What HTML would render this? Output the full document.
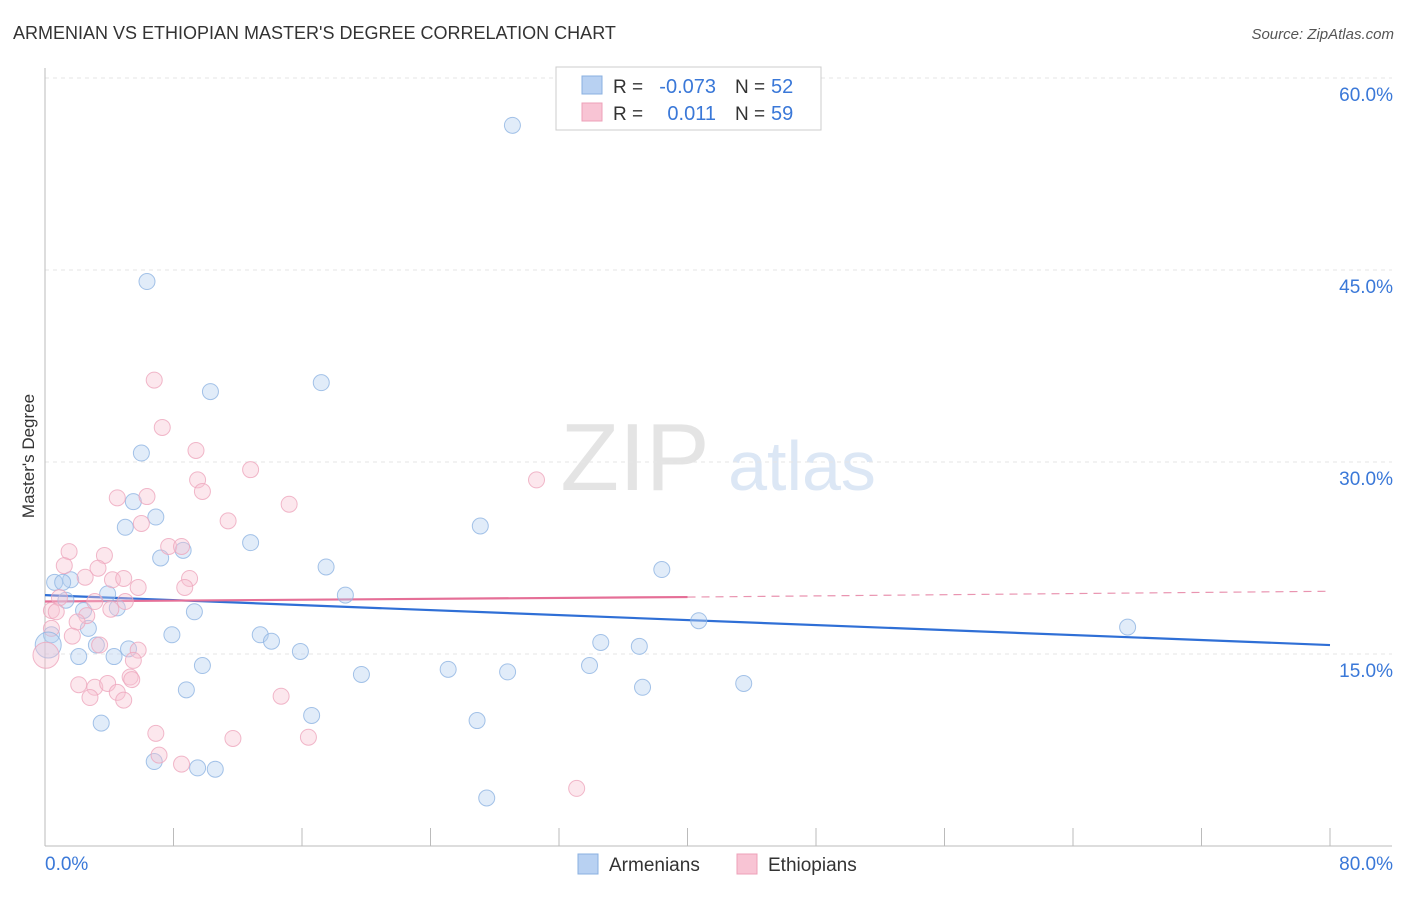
<!DOCTYPE html>
<html><head><meta charset="utf-8"><style>
body{margin:0;background:#fff;font-family:"Liberation Sans",sans-serif;}
svg text{font-family:"Liberation Sans",sans-serif;}
</style></head><body>
<svg id="chart" width="1406" height="892" xmlns="http://www.w3.org/2000/svg">
<text x="13" y="39" font-size="18" fill="#333">ARMENIAN VS ETHIOPIAN MASTER'S DEGREE CORRELATION CHART</text>
<text x="1394" y="39" font-size="15" fill="#555" text-anchor="end" font-style="italic">Source: ZipAtlas.com</text>
<text transform="translate(34,456) rotate(-90)" font-size="17" fill="#333" text-anchor="middle">Master's Degree</text>
<g>
<text x="635" y="490" font-size="96" fill="#e4e4e4" text-anchor="middle" font-family="Liberation Serif,serif">ZIP</text>
<text x="802" y="490" font-size="70" fill="#dce7f5" text-anchor="middle">atlas</text>
</g>
<g id="grid"></g><g id="axes"></g><g id="lines"></g><g id="pts"></g>
<g>
<rect x="556" y="67" width="265" height="63" fill="#fff" stroke="#ccc"/>
<rect x="582" y="76" width="20" height="18" fill="#b8d1f2" stroke="#8ab0e0"/>
<rect x="582" y="103" width="20" height="18" fill="#f8c4d4" stroke="#eea0b8"/>
<text x="613" y="93" font-size="19" fill="#333">R =</text>
<text x="716" y="93" font-size="20" fill="#3a78d8" text-anchor="end">-0.073</text>
<text x="735" y="93" font-size="19" fill="#333">N =</text>
<text x="771" y="93" font-size="20" fill="#3a78d8">52</text>
<text x="613" y="120" font-size="19" fill="#333">R =</text>
<text x="716" y="120" font-size="20" fill="#3a78d8" text-anchor="end">0.011</text>
<text x="735" y="120" font-size="19" fill="#333">N =</text>
<text x="771" y="120" font-size="20" fill="#3a78d8">59</text>
</g>
<g>
<rect x="578" y="854" width="20" height="20" fill="#b8d1f2" stroke="#8ab0e0"/>
<text x="609" y="871" font-size="19" fill="#333">Armenians</text>
<rect x="737" y="854" width="20" height="20" fill="#f8c4d4" stroke="#eea0b8"/>
<text x="768" y="871" font-size="19" fill="#333">Ethiopians</text>
</g>
</svg>
<script>
const yTicks=[15,30,45,60];
const yTickLabels=["15.0%","30.0%","45.0%","60.0%"];
const xTickLabels=["0.0%","80.0%"];
const armX=[29.1,6.35,10.3,17.2,6.0,5.5,6.9,5.0,27.1,12.8,7.2,8.6,38.4,17.5,0.6,1.6,1.1,3.9,18.7,1.3,2.4,4.5,9.3,40.7,67.4,2.7,0.4,7.9,13.4,14.1,34.6,3.2,5.2,37.0,15.9,2.1,4.3,9.8,33.9,25.1,28.8,19.7,8.8,37.2,43.5,16.6,3.5,26.9,6.8,9.5,10.6,27.5];
const armY=[56.3,44.1,35.5,36.2,30.7,26.9,25.7,24.9,25.0,23.7,22.5,23.1,21.6,21.8,20.6,20.8,20.6,19.7,19.6,19.2,18.4,18.6,18.3,17.6,17.1,17.0,16.5,16.5,16.5,16.0,15.9,15.7,15.4,15.6,15.2,14.8,14.8,14.1,14.1,13.8,13.6,13.4,12.2,12.4,12.7,10.2,9.6,9.8,6.6,6.1,6.0,3.75];
const ethX=[6.8,7.3,9.4,12.8,30.6,9.5,9.8,4.5,6.35,15.2,6.0,11.4,7.7,8.5,1.5,3.7,1.2,3.3,9.0,2.5,4.2,4.9,5.8,8.7,0.9,3.1,5.0,0.4,4.1,0.7,2.6,2.0,0.4,1.7,3.4,5.8,5.5,2.1,3.1,3.9,5.3,5.4,2.8,4.5,4.9,14.7,6.9,11.7,16.4,7.1,8.5,33.1];
const ethY=[36.4,32.7,30.9,29.4,28.6,28.6,27.7,27.2,27.3,26.7,25.2,25.4,23.4,23.4,23.0,22.7,21.9,21.7,20.9,21.0,20.8,20.9,20.2,20.2,19.4,19.1,19.1,18.4,18.5,18.3,18.0,17.5,17.0,16.4,15.7,15.3,14.5,12.6,12.4,12.7,13.2,13.0,11.6,12.0,11.4,11.7,8.8,8.4,8.5,7.1,6.4,4.5];
const armBig=[[0.2,15.7]];
const ethBig=[[0.06,14.9]];
const armTrend=[19.6,15.7];
const ethTrend=[19.1,19.45,19.9];
const xs=v=>45+v*1285/80, ys=v=>846-v*192/15;
const NS="http://www.w3.org/2000/svg";
function mk(t,a,p){const e=document.createElementNS(NS,t);for(const k in a)e.setAttribute(k,a[k]);p.appendChild(e);return e;}
const grid=document.getElementById('grid'),axes=document.getElementById('axes'),lines=document.getElementById('lines'),pts=document.getElementById('pts');
yTicks.forEach((t,i)=>{
 const l=mk('line',{x1:45,x2:1392,y1:ys(t),y2:ys(t),stroke:'#e6e6e6','stroke-dasharray':'4,4'},grid);
 
 
 const tx=mk('text',{x:1393,y:ys(t)+23,'font-size':19,fill:'#3a78d8','text-anchor':'end'},grid);
 tx.textContent=yTickLabels[i];
 
 
});
const ax=mk('line',{x1:45,x2:1392,y1:846,y2:846,stroke:'#bbb'},axes);


const ay=mk('line',{x1:45,x2:45,y1:68,y2:846,stroke:'#bbb'},axes);


for(let i=0;i<=10;i++){const t=mk('line',{x1:xs(i*8),x2:xs(i*8),y1:828,y2:846,stroke:'#bbb'},axes);
 
 }
[[0,45,'start'],[80,1393,'end']].forEach((d,i)=>{const t=mk('text',{x:d[1],y:870,'font-size':19,fill:'#3a78d8','text-anchor':d[2]},axes);t.textContent=xTickLabels[i];
 
 });
function dot(x,y,r,fill,stroke,name){const c=mk('circle',{cx:xs(x),cy:ys(y),r:r,fill:fill,'fill-opacity':0.4,stroke:stroke,'stroke-opacity':0.8,'stroke-width':1},pts);
 
 }
armX.forEach((x,i)=>dot(x,armY[i],8,'#b4cff0','#8fb4e2','armenian-point'));
ethX.forEach((x,i)=>dot(x,ethY[i],8,'#f7c2d2','#eda6bd','ethiopian-point'));
armBig.forEach(p=>dot(p[0],p[1],13,'#b4cff0','#8fb4e2','armenian-point'));
ethBig.forEach(p=>dot(p[0],p[1],13,'#f7c2d2','#eda6bd','ethiopian-point'));
const bl=mk('line',{x1:xs(0),y1:ys(armTrend[0]),x2:xs(80),y2:ys(armTrend[1]),stroke:'#2f6fd6','stroke-width':2.2},lines);


const pl=mk('line',{x1:xs(0),y1:ys(ethTrend[0]),x2:xs(40),y2:ys(ethTrend[1]),stroke:'#e56f97','stroke-width':2.2},lines);


const pd=mk('line',{x1:xs(40),y1:ys(ethTrend[1]),x2:xs(80),y2:ys(ethTrend[2]),stroke:'#e994b0','stroke-width':1.2,'stroke-dasharray':'8,6'},lines);


</script>
</body></html>
